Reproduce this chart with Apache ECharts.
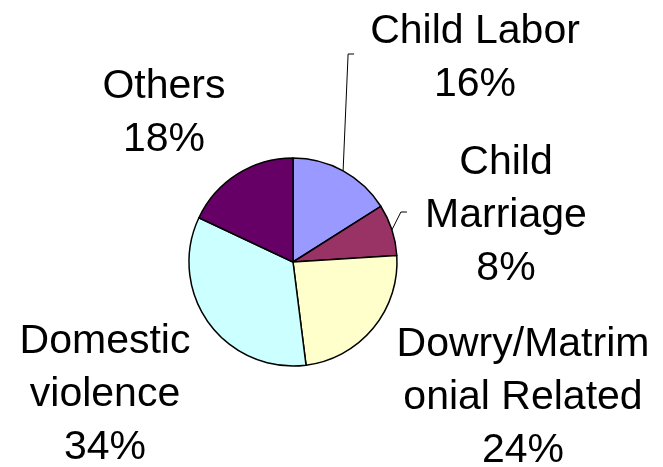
<!DOCTYPE html>
<html>
<head>
<meta charset="utf-8">
<title>Pie</title>
<script src="https://cdn.jsdelivr.net/npm/echarts@6/dist/echarts.min.js"></script>
<style>
  html, body { margin: 0; padding: 0; background: #fff; }
  #main { width: 663px; height: 467px; }
</style>
</head>
<body>
<div id="main"></div>
<script type="text/javascript">
// chart data
var categories = ['Child Labor', 'Child Marriage', 'Dowry/Matrimonial Related', 'Domestic violence', 'Others'];
var labelText = ['Child Labor', 'Child\nMarriage', 'Dowry/Matrim\nonial Related', 'Domestic\nviolence', 'Others'];
var values = [16, 8, 24, 34, 18];
var colors = ['#9999FF', '#993366', '#FFFFCC', '#CCFFFF', '#660066'];

// where each label block sits (centre of the text block)
var labelPos = [[475, 58], [506, 216], [523, 398], [105, 395], [164, 113]];

var chart = echarts.init(document.getElementById('main'));

var items = [];
for (var i = 0; i < values.length; i++) {
  items.push({
    name: categories[i],
    value: values[i],
    itemStyle: { color: colors[i] },
    labelLine: { show: i < 2 }
  });
}

var option = {
  animation: false,
  series: [{
    type: 'pie',
    center: [293, 262],
    radius: 104,
    startAngle: 90,
    clockwise: true,
    data: items,
    itemStyle: { borderColor: '#000', borderWidth: 1.5 },
    label: {
      show: true,
      position: 'outside',
      color: '#000',
      fontFamily: 'Liberation Sans, Arial, sans-serif',
      fontSize: 41,
      lineHeight: 53,
      align: 'center',
      formatter: function (p) {
        return labelText[p.dataIndex] + '\n' + p.value + '%';
      }
    },
    labelLine: {
      lineStyle: { color: '#000', width: 1 },
      length: 10,
      length2: 10
    },
    emphasis: { disabled: true },
    labelLayout: function (params) {
      var pos = labelPos[params.dataIndex];
      var out = { x: pos[0], y: pos[1], align: 'center', verticalAlign: 'middle' };
      var pts = params.labelLinePoints;
      // leader lines: up from the slice edge, then a short tick to the right
      if (pts && params.dataIndex === 0) {
        out.labelLinePoints = [pts[0], [pts[0][0] + 5, 54], [pts[0][0] + 11, 54]];
      } else if (pts && params.dataIndex === 1) {
        out.labelLinePoints = [pts[0], [pts[0][0] + 9, 212], [pts[0][0] + 15, 212]];
      }
      return out;
    }
  }]
};

chart.setOption(option);
</script>
</body>
</html>
